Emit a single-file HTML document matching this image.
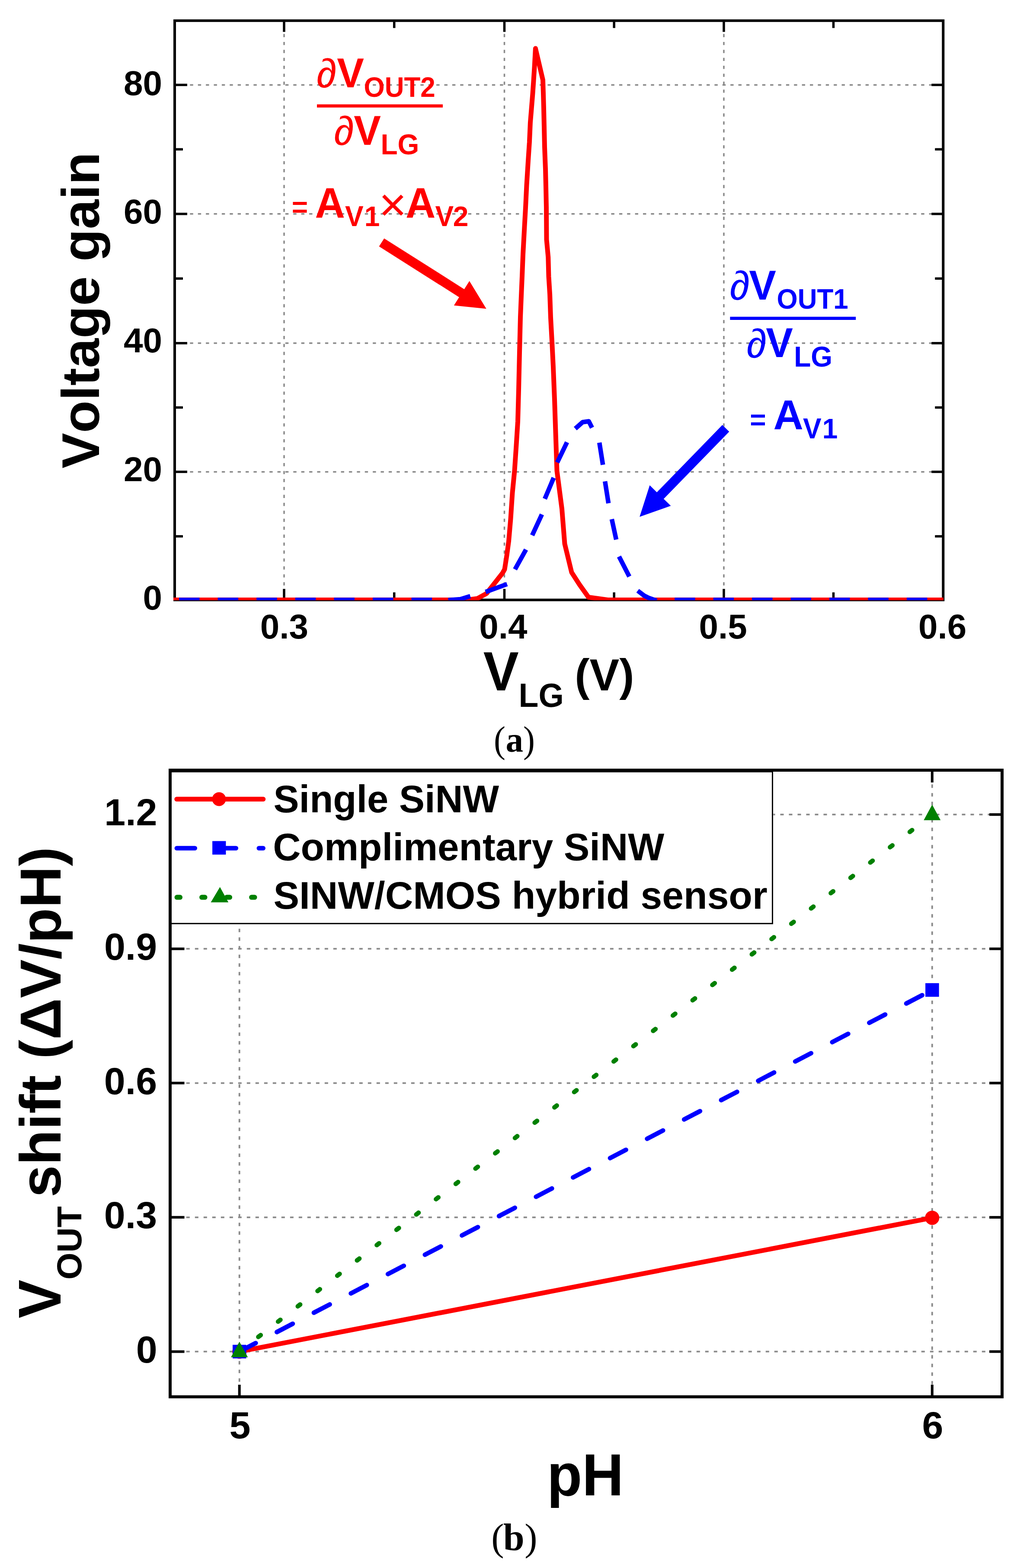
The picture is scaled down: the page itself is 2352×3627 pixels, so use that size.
<!DOCTYPE html>
<html><head><meta charset="utf-8"><title>Voltage gain and pH sensitivity</title>
<style>
html,body{margin:0;padding:0;background:#fff;}
svg{display:block;font-kerning:none;}
</style></head>
<body>
<svg width="2352" height="3627" viewBox="0 0 2352 3627">
<rect x="0" y="0" width="2352" height="3627" fill="#fff"/>
<line x1="657.0" y1="50.8" x2="657.0" y2="1384.7" stroke="#8a8a8a" stroke-width="3.5" stroke-dasharray="7.4 10.98" stroke-dashoffset="9"/>
<line x1="1166.5" y1="50.8" x2="1166.5" y2="1384.7" stroke="#8a8a8a" stroke-width="3.5" stroke-dasharray="7.4 10.98" stroke-dashoffset="9"/>
<line x1="1674.0" y1="50.8" x2="1674.0" y2="1384.7" stroke="#8a8a8a" stroke-width="3.5" stroke-dasharray="7.4 10.98" stroke-dashoffset="9"/>
<line x1="403.0" y1="1091.4" x2="2178.3" y2="1091.4" stroke="#8a8a8a" stroke-width="3.5" stroke-dasharray="7.4 10.98" stroke-dashoffset="0.4"/>
<line x1="403.0" y1="793.8" x2="2178.3" y2="793.8" stroke="#8a8a8a" stroke-width="3.5" stroke-dasharray="7.4 10.98" stroke-dashoffset="0.4"/>
<line x1="403.0" y1="494.8" x2="2178.3" y2="494.8" stroke="#8a8a8a" stroke-width="3.5" stroke-dasharray="7.4 10.98" stroke-dashoffset="0.4"/>
<line x1="403.0" y1="196.4" x2="2178.3" y2="196.4" stroke="#8a8a8a" stroke-width="3.5" stroke-dasharray="7.4 10.98" stroke-dashoffset="0.4"/>
<rect x="404.0" y="47.8" width="1777.3000000000002" height="1339.9" fill="none" stroke="#000" stroke-width="6.0"/>
<line x1="657.00" y1="47.80" x2="657.00" y2="73.80" stroke="#000" stroke-width="5.5"/>
<line x1="657.00" y1="1362.20" x2="657.00" y2="1387.70" stroke="#000" stroke-width="5.5"/>
<line x1="911.70" y1="47.80" x2="911.70" y2="64.80" stroke="#000" stroke-width="5.5"/>
<line x1="911.70" y1="1370.20" x2="911.70" y2="1387.70" stroke="#000" stroke-width="5.5"/>
<line x1="1166.50" y1="47.80" x2="1166.50" y2="73.80" stroke="#000" stroke-width="5.5"/>
<line x1="1166.50" y1="1362.20" x2="1166.50" y2="1387.70" stroke="#000" stroke-width="5.5"/>
<line x1="1420.20" y1="47.80" x2="1420.20" y2="64.80" stroke="#000" stroke-width="5.5"/>
<line x1="1420.20" y1="1370.20" x2="1420.20" y2="1387.70" stroke="#000" stroke-width="5.5"/>
<line x1="1674.00" y1="47.80" x2="1674.00" y2="73.80" stroke="#000" stroke-width="5.5"/>
<line x1="1674.00" y1="1362.20" x2="1674.00" y2="1387.70" stroke="#000" stroke-width="5.5"/>
<line x1="1927.50" y1="47.80" x2="1927.50" y2="64.80" stroke="#000" stroke-width="5.5"/>
<line x1="1927.50" y1="1370.20" x2="1927.50" y2="1387.70" stroke="#000" stroke-width="5.5"/>
<line x1="404.00" y1="1091.40" x2="433.00" y2="1091.40" stroke="#000" stroke-width="5.5"/>
<line x1="2154.30" y1="1091.40" x2="2181.30" y2="1091.40" stroke="#000" stroke-width="5.5"/>
<line x1="404.00" y1="793.80" x2="433.00" y2="793.80" stroke="#000" stroke-width="5.5"/>
<line x1="2154.30" y1="793.80" x2="2181.30" y2="793.80" stroke="#000" stroke-width="5.5"/>
<line x1="404.00" y1="494.80" x2="433.00" y2="494.80" stroke="#000" stroke-width="5.5"/>
<line x1="2154.30" y1="494.80" x2="2181.30" y2="494.80" stroke="#000" stroke-width="5.5"/>
<line x1="404.00" y1="196.40" x2="433.00" y2="196.40" stroke="#000" stroke-width="5.5"/>
<line x1="2154.30" y1="196.40" x2="2181.30" y2="196.40" stroke="#000" stroke-width="5.5"/>
<line x1="404.00" y1="1240.60" x2="423.00" y2="1240.60" stroke="#000" stroke-width="5.5"/>
<line x1="2162.30" y1="1240.60" x2="2181.30" y2="1240.60" stroke="#000" stroke-width="5.5"/>
<line x1="404.00" y1="942.60" x2="423.00" y2="942.60" stroke="#000" stroke-width="5.5"/>
<line x1="2162.30" y1="942.60" x2="2181.30" y2="942.60" stroke="#000" stroke-width="5.5"/>
<line x1="404.00" y1="644.30" x2="423.00" y2="644.30" stroke="#000" stroke-width="5.5"/>
<line x1="2162.30" y1="644.30" x2="2181.30" y2="644.30" stroke="#000" stroke-width="5.5"/>
<line x1="404.00" y1="345.40" x2="423.00" y2="345.40" stroke="#000" stroke-width="5.5"/>
<line x1="2162.30" y1="345.40" x2="2181.30" y2="345.40" stroke="#000" stroke-width="5.5"/>
<defs><clipPath id="clipA"><rect x="401" y="40" width="1781" height="1348.6"/></clipPath></defs>
<g clip-path="url(#clipA)">
<polyline points="400.0,1387.8 1080.0,1387.8 1104.0,1384.5 1125.0,1373.0 1162.0,1326.0 1167.0,1317.0 1172.0,1285.0 1176.5,1252.0 1181.0,1200.0 1185.0,1140.0 1190.0,1089.0 1194.0,1030.0 1197.5,975.0 1199.5,902.0 1201.5,815.0 1203.5,734.0 1205.5,685.0 1207.5,639.0 1209.5,589.0 1213.0,524.0 1215.5,480.0 1218.0,428.0 1221.5,372.0 1224.4,329.0 1226.4,284.0 1229.3,249.0 1232.0,216.0 1234.0,187.0 1236.0,156.0 1238.4,112.0 1255.5,185.0 1256.5,216.0 1257.5,251.0 1258.5,294.0 1259.5,340.0 1261.5,391.0 1262.5,432.0 1263.5,480.0 1264.0,554.0 1267.8,595.0 1269.0,640.0 1271.6,681.0 1273.5,735.0 1276.8,795.0 1279.4,847.0 1282.5,924.0 1285.0,1000.0 1288.0,1089.0 1299.5,1177.0 1306.0,1258.0 1322.0,1324.0 1340.0,1352.0 1361.0,1381.5 1406.0,1387.8 2190.0,1387.8" fill="none" stroke="#ff0000" stroke-width="11" stroke-linejoin="round"/>
<g stroke="#0000ff" stroke-width="10.5" stroke-linecap="square" fill="none">
<line x1="414.0" y1="1387.8" x2="461.5" y2="1387.8" stroke-linecap="butt"/>
<line x1="503.6" y1="1387.8" x2="551.1" y2="1387.8" stroke-linecap="butt"/>
<line x1="593.2" y1="1387.8" x2="640.7" y2="1387.8" stroke-linecap="butt"/>
<line x1="682.8" y1="1387.8" x2="730.3" y2="1387.8" stroke-linecap="butt"/>
<line x1="772.4" y1="1387.8" x2="819.9" y2="1387.8" stroke-linecap="butt"/>
<line x1="862.0" y1="1387.8" x2="909.5" y2="1387.8" stroke-linecap="butt"/>
<line x1="951.6" y1="1387.8" x2="999.1" y2="1387.8" stroke-linecap="butt"/>
<polyline points="1041.9,1387.8 1064.8,1386.0 1082.6,1380.6" stroke-linejoin="round"/>
<polyline points="1128.0,1367.4 1167.7,1352.9" stroke-linejoin="round"/>
<polyline points="1193.6,1312.4 1213.9,1275.9" stroke-linejoin="round"/>
<polyline points="1233.0,1233.5 1251.0,1194.6" stroke-linejoin="round"/>
<polyline points="1262.0,1149.0 1278.5,1110.0" stroke-linejoin="round"/>
<polyline points="1291.0,1065.0 1309.0,1027.8" stroke-linejoin="round"/>
<polyline points="1334.4,988.0 1347.4,976.5 1361.7,974.5 1366.8,984.7" stroke-linejoin="round"/>
<polyline points="1387.0,1029.0 1393.5,1070.0" stroke-linejoin="round"/>
<polyline points="1400.0,1118.5 1406.4,1159.0" stroke-linejoin="round"/>
<polyline points="1416.0,1206.0 1424.0,1243.0" stroke-linejoin="round"/>
<polyline points="1434.0,1292.0 1453.0,1329.0" stroke-linejoin="round"/>
<polyline points="1479.0,1369.6 1490.0,1378.0 1500.0,1383.0 1513.7,1387.8" stroke-linejoin="round"/>
<line x1="1560.2" y1="1387.8" x2="1607.7" y2="1387.8" stroke-linecap="butt"/>
<line x1="1649.7" y1="1387.8" x2="1697.2" y2="1387.8" stroke-linecap="butt"/>
<line x1="1739.1" y1="1387.8" x2="1786.6" y2="1387.8" stroke-linecap="butt"/>
<line x1="1828.6" y1="1387.8" x2="1876.1" y2="1387.8" stroke-linecap="butt"/>
<line x1="1918.0" y1="1387.8" x2="1965.5" y2="1387.8" stroke-linecap="butt"/>
<line x1="2007.5" y1="1387.8" x2="2054.9" y2="1387.8" stroke-linecap="butt"/>
<line x1="2096.9" y1="1387.8" x2="2144.4" y2="1387.8" stroke-linecap="butt"/>
</g>
</g>
<text x="330.49" y="1409.50" font-family='"Liberation Sans", Arial, sans-serif' font-size="80.00" fill="#000" font-weight="bold">0</text>
<text x="286.00" y="1113.00" font-family='"Liberation Sans", Arial, sans-serif' font-size="80.00" fill="#000" font-weight="bold">20</text>
<text x="286.00" y="815.30" font-family='"Liberation Sans", Arial, sans-serif' font-size="80.00" fill="#000" font-weight="bold">40</text>
<text x="286.00" y="517.00" font-family='"Liberation Sans", Arial, sans-serif' font-size="80.00" fill="#000" font-weight="bold">60</text>
<text x="286.00" y="219.50" font-family='"Liberation Sans", Arial, sans-serif' font-size="80.00" fill="#000" font-weight="bold">80</text>
<text x="601.76" y="1477.00" font-family='"Liberation Sans", Arial, sans-serif' font-size="80.00" fill="#000" font-weight="bold">0.3</text>
<text x="1108.23" y="1477.00" font-family='"Liberation Sans", Arial, sans-serif' font-size="80.00" fill="#000" font-weight="bold">0.4</text>
<text x="1616.53" y="1477.00" font-family='"Liberation Sans", Arial, sans-serif' font-size="80.00" fill="#000" font-weight="bold">0.5</text>
<text x="2123.96" y="1477.00" font-family='"Liberation Sans", Arial, sans-serif' font-size="80.00" fill="#000" font-weight="bold">0.6</text>
<text transform="translate(229.10,1083.44) rotate(-90)" x="0" y="0" font-family='"Liberation Sans", Arial, sans-serif' font-size="123.00" fill="#000" font-weight="bold">Voltage gain</text>
<text transform="translate(1117.66,1597.30) scale(1,1.045)" font-family='"Liberation Sans", Arial, sans-serif' font-size="123.00" fill="#000" font-weight="bold">V</text>
<text transform="translate(1199.58,1635.20) scale(1,1.03)" font-family='"Liberation Sans", Arial, sans-serif' font-size="75.00" fill="#000" font-weight="bold">LG</text>
<text x="1329.17" y="1597.30" font-family='"Liberation Sans", Arial, sans-serif' font-size="103.00" fill="#000" font-weight="bold">(V)</text>
<text transform="translate(1142.04,1739.50) scale(1,1.06)" font-family='"Liberation Serif", "Times New Roman", serif' font-size="81.00" fill="#000">(</text>
<text transform="translate(1169.39,1738.50) scale(1,1.03)" font-family='"Liberation Serif", "Times New Roman", serif' font-size="81.00" fill="#000" font-weight="bold">a</text>
<text transform="translate(1209.89,1739.50) scale(1,1.06)" font-family='"Liberation Serif", "Times New Roman", serif' font-size="81.00" fill="#000">)</text>
<text x="732.03" y="202.26" font-family='"Liberation Sans", Arial, sans-serif' font-size="94.00" fill="#ff0000">∂</text>
<text transform="translate(779.16,202.00) scale(1,1.035)" font-family='"Liberation Sans", Arial, sans-serif' font-size="94.00" fill="#ff0000" font-weight="bold">V</text>
<text transform="translate(841.46,224.00) scale(1,1.045)" font-family='"Liberation Sans", Arial, sans-serif' font-size="62.00" fill="#ff0000" font-weight="bold">OUT2</text>
<rect x="733" y="241.4" width="291" height="7.3" fill="#ff0000"/>
<text x="772.23" y="334.76" font-family='"Liberation Sans", Arial, sans-serif' font-size="94.00" fill="#ff0000">∂</text>
<text transform="translate(818.36,334.80) scale(1,1.035)" font-family='"Liberation Sans", Arial, sans-serif' font-size="94.00" fill="#ff0000" font-weight="bold">V</text>
<text transform="translate(880.52,356.60) scale(1,1.03)" font-family='"Liberation Sans", Arial, sans-serif' font-size="64.00" fill="#ff0000" font-weight="bold">LG</text>
<text x="674.84" y="501.49" font-family='"Liberation Sans", Arial, sans-serif' font-size="64.00" fill="#ff0000" font-weight="bold">=</text>
<text transform="translate(728.61,502.50) scale(1,1.03)" font-family='"Liberation Sans", Arial, sans-serif' font-size="96.00" fill="#ff0000" font-weight="bold">A</text>
<text transform="translate(798.06,523.00) scale(1,1.045)" font-family='"Liberation Sans", Arial, sans-serif' font-size="64.00" fill="#ff0000" font-weight="bold">V</text>
<text x="842.66" y="523.00" font-family='"Liberation Sans", Arial, sans-serif' font-size="64.00" fill="#ff0000" font-weight="bold">1</text>
<text x="876.17" y="510.88" font-family='"Liberation Sans", Arial, sans-serif' font-size="110.00" fill="#ff0000">×</text>
<text transform="translate(938.01,502.50) scale(1,1.03)" font-family='"Liberation Sans", Arial, sans-serif' font-size="96.00" fill="#ff0000" font-weight="bold">A</text>
<text transform="translate(1006.56,523.00) scale(1,1.045)" font-family='"Liberation Sans", Arial, sans-serif' font-size="64.00" fill="#ff0000" font-weight="bold">V</text>
<text x="1047.77" y="523.00" font-family='"Liberation Sans", Arial, sans-serif' font-size="64.00" fill="#ff0000" font-weight="bold">2</text>
<polygon points="876.6,570.0 1061.8,687.4 1049.8,706.4 1124.7,714.3 1085.6,649.9 1073.6,668.9 888.4,551.4" fill="#ff0000"/>
<text x="1687.43" y="693.36" font-family='"Liberation Sans", Arial, sans-serif' font-size="94.00" fill="#0000ff">∂</text>
<text transform="translate(1732.36,693.30) scale(1,1.035)" font-family='"Liberation Sans", Arial, sans-serif' font-size="94.00" fill="#0000ff" font-weight="bold">V</text>
<text transform="translate(1796.46,714.00) scale(1,1.04)" font-family='"Liberation Sans", Arial, sans-serif' font-size="62.00" fill="#0000ff" font-weight="bold">OUT1</text>
<rect x="1688.4" y="732.7" width="290.8" height="7.3" fill="#0000ff"/>
<text x="1726.43" y="826.76" font-family='"Liberation Sans", Arial, sans-serif' font-size="94.00" fill="#0000ff">∂</text>
<text transform="translate(1771.16,825.50) scale(1,1.035)" font-family='"Liberation Sans", Arial, sans-serif' font-size="94.00" fill="#0000ff" font-weight="bold">V</text>
<text transform="translate(1836.22,847.60) scale(1,1.03)" font-family='"Liberation Sans", Arial, sans-serif' font-size="64.00" fill="#0000ff" font-weight="bold">LG</text>
<text x="1734.14" y="992.79" font-family='"Liberation Sans", Arial, sans-serif' font-size="64.00" fill="#0000ff" font-weight="bold">=</text>
<text x="1788.61" y="992.70" font-family='"Liberation Sans", Arial, sans-serif' font-size="96.00" fill="#0000ff" font-weight="bold">A</text>
<text transform="translate(1856.96,1013.50) scale(1,1.04)" font-family='"Liberation Sans", Arial, sans-serif' font-size="64.00" fill="#0000ff" font-weight="bold">V</text>
<text x="1901.66" y="1013.50" font-family='"Liberation Sans", Arial, sans-serif' font-size="64.00" fill="#0000ff" font-weight="bold">1</text>
<polygon points="1670.6,983.1 1519.1,1138.7 1502.6,1122.6 1479.2,1195.4 1551.4,1170.1 1534.9,1154.0 1686.4,998.5" fill="#0000ff"/>
<line x1="553.7" y1="2138.3" x2="553.7" y2="3228.0" stroke="#8a8a8a" stroke-width="3.8" stroke-dasharray="8 12" stroke-dashoffset="10"/>
<line x1="2155.8" y1="1784.5" x2="2155.8" y2="3228.0" stroke="#8a8a8a" stroke-width="3.8" stroke-dasharray="8 12" stroke-dashoffset="10"/>
<line x1="396.5" y1="3126.4" x2="2314.5" y2="3126.4" stroke="#8a8a8a" stroke-width="3.8" stroke-dasharray="8 12" stroke-dashoffset="5.7"/>
<line x1="396.5" y1="2815.8" x2="2314.5" y2="2815.8" stroke="#8a8a8a" stroke-width="3.8" stroke-dasharray="8 12" stroke-dashoffset="5.7"/>
<line x1="396.5" y1="2505.3" x2="2314.5" y2="2505.3" stroke="#8a8a8a" stroke-width="3.8" stroke-dasharray="8 12" stroke-dashoffset="5.7"/>
<line x1="396.5" y1="2194.7" x2="2314.5" y2="2194.7" stroke="#8a8a8a" stroke-width="3.8" stroke-dasharray="8 12" stroke-dashoffset="5.7"/>
<line x1="1788.5" y1="1884.2" x2="2314.5" y2="1884.2" stroke="#8a8a8a" stroke-width="3.8" stroke-dasharray="8 12" stroke-dashoffset="4"/>
<line x1="553.70" y1="3126.40" x2="2155.80" y2="2816.88" stroke="#ff0000" stroke-width="11"/>
<line x1="553.7" y1="3126.4" x2="2155.8" y2="2290.0" stroke="#0000ff" stroke-width="10.5" stroke-linecap="round" stroke-dasharray="41.5 55.1" stroke-dashoffset="-1"/>
<line x1="553.7" y1="3126.4" x2="2155.8" y2="1884.2" stroke="#008000" stroke-width="10.5" stroke-linecap="round" stroke-dasharray="6.8 50.97" stroke-dashoffset="2.4"/>
<circle cx="553.7" cy="3126.4" r="16.5" fill="#ff0000"/>
<circle cx="2155.8" cy="2816.9" r="16.5" fill="#ff0000"/>
<rect x="538.0" y="3110.7" width="31.5" height="31.5" fill="#0000ff"/>
<rect x="2140.1" y="2274.2" width="31.5" height="31.5" fill="#0000ff"/>
<polygon points="553.7,3103.4 573.2,3139.4 534.2,3139.4" fill="#008000"/>
<polygon points="2155.8,1861.2 2175.3,1897.2 2136.3,1897.2" fill="#008000"/>
<rect x="393.5" y="1785.0" width="1393.0" height="351.3000000000002" fill="#fff" stroke="#000" stroke-width="3"/>
<line x1="408.80" y1="1848.50" x2="608.70" y2="1848.50" stroke="#ff0000" stroke-width="11" stroke-linecap="round"/>
<circle cx="506.5" cy="1848.5" r="16.0" fill="#ff0000"/>
<line x1="408.8" y1="1962.0" x2="608.7" y2="1962.0" stroke="#0000ff" stroke-width="10.5" stroke-linecap="round" stroke-dasharray="42 53"/>
<rect x="491.1" y="1945.5" width="31.3" height="31.3" fill="#0000ff"/>
<line x1="409.3" y1="2075.6" x2="608.7" y2="2075.6" stroke="#008000" stroke-width="11.5" stroke-linecap="round" stroke-dasharray="7 50.5"/>
<polygon points="508.7,2051.8 528.2,2087.2 487.5,2087.2" fill="#008000"/>
<text x="632.45" y="1878.70" font-family='"Liberation Sans", Arial, sans-serif' font-size="88.60" fill="#000" font-weight="bold">Single SiNW</text>
<text x="631.35" y="1990.20" font-family='"Liberation Sans", Arial, sans-serif' font-size="89.00" fill="#000" font-weight="bold">Complimentary SiNW</text>
<text x="632.42" y="2102.20" font-family='"Liberation Sans", Arial, sans-serif' font-size="89.40" fill="#000" font-weight="bold">SINW/CMOS hybrid sensor</text>
<rect x="393.5" y="1781.5" width="1924.0" height="1449.5" fill="none" stroke="#000" stroke-width="7.0"/>
<line x1="553.70" y1="3203.00" x2="553.70" y2="3231.00" stroke="#000" stroke-width="6"/>
<line x1="2155.80" y1="3203.00" x2="2155.80" y2="3231.00" stroke="#000" stroke-width="6"/>
<line x1="2155.80" y1="1781.50" x2="2155.80" y2="1810.00" stroke="#000" stroke-width="6"/>
<line x1="393.50" y1="3126.40" x2="426.50" y2="3126.40" stroke="#000" stroke-width="6"/>
<line x1="2288.00" y1="3126.40" x2="2317.50" y2="3126.40" stroke="#000" stroke-width="6"/>
<line x1="393.50" y1="2815.84" x2="426.50" y2="2815.84" stroke="#000" stroke-width="6"/>
<line x1="2288.00" y1="2815.84" x2="2317.50" y2="2815.84" stroke="#000" stroke-width="6"/>
<line x1="393.50" y1="2505.28" x2="426.50" y2="2505.28" stroke="#000" stroke-width="6"/>
<line x1="2288.00" y1="2505.28" x2="2317.50" y2="2505.28" stroke="#000" stroke-width="6"/>
<line x1="393.50" y1="2194.72" x2="426.50" y2="2194.72" stroke="#000" stroke-width="6"/>
<line x1="2288.00" y1="2194.72" x2="2317.50" y2="2194.72" stroke="#000" stroke-width="6"/>
<line x1="2288.00" y1="1884.16" x2="2317.50" y2="1884.16" stroke="#000" stroke-width="6"/>
<text x="314.67" y="3151.70" font-family='"Liberation Sans", Arial, sans-serif' font-size="88.00" fill="#000" font-weight="bold">0</text>
<text x="240.85" y="2841.14" font-family='"Liberation Sans", Arial, sans-serif' font-size="88.00" fill="#000" font-weight="bold">0.3</text>
<text x="240.85" y="2530.58" font-family='"Liberation Sans", Arial, sans-serif' font-size="88.00" fill="#000" font-weight="bold">0.6</text>
<text x="240.93" y="2220.02" font-family='"Liberation Sans", Arial, sans-serif' font-size="88.00" fill="#000" font-weight="bold">0.9</text>
<text x="241.19" y="1909.46" font-family='"Liberation Sans", Arial, sans-serif' font-size="88.00" fill="#000" font-weight="bold">1.2</text>
<text x="530.60" y="3327.00" font-family='"Liberation Sans", Arial, sans-serif' font-size="88.00" fill="#000" font-weight="bold">5</text>
<text x="2132.41" y="3327.00" font-family='"Liberation Sans", Arial, sans-serif' font-size="88.00" fill="#000" font-weight="bold">6</text>
<text transform="translate(1264.93,3459.00) scale(1,1.03)" font-family='"Liberation Sans", Arial, sans-serif' font-size="133.00" fill="#000" font-weight="bold">pH</text>
<text transform="translate(140.40,3049.62) rotate(-90) scale(1,1.045)" x="0" y="0" font-family='"Liberation Sans", Arial, sans-serif' font-size="134.00" fill="#000" font-weight="bold">V</text>
<text transform="translate(188.20,2959.90) rotate(-90)" x="0" y="0" font-family='"Liberation Sans", Arial, sans-serif' font-size="80.50" fill="#000" font-weight="bold">OUT</text>
<text transform="translate(140.40,2769.71) rotate(-90)" x="0" y="0" font-family='"Liberation Sans", Arial, sans-serif' font-size="134.00" fill="#000" font-weight="bold">shift (ΔV/pH)</text>
<text x="1136.33" y="3585.50" font-family='"Liberation Serif", "Times New Roman", serif' font-size="88.00" fill="#000">(</text>
<text x="1163.68" y="3585.50" font-family='"Liberation Serif", "Times New Roman", serif' font-size="88.00" fill="#000" font-weight="bold">b</text>
<text x="1213.26" y="3585.50" font-family='"Liberation Serif", "Times New Roman", serif' font-size="88.00" fill="#000">)</text>
</svg>
</body></html>
